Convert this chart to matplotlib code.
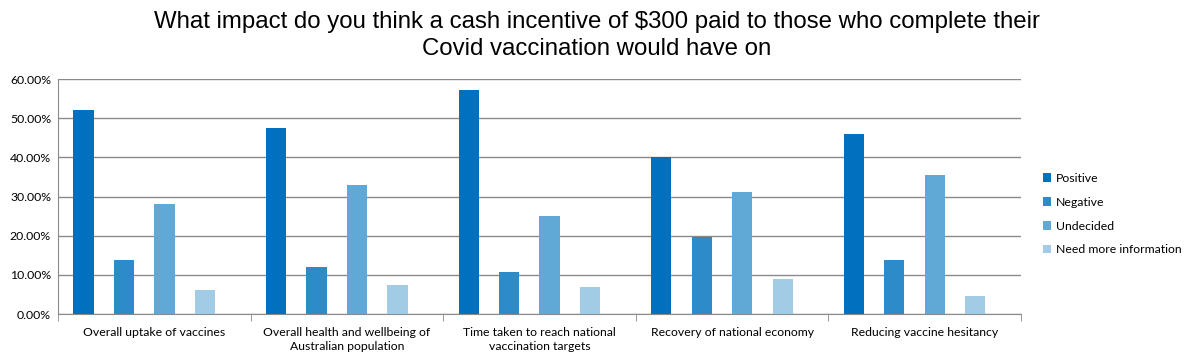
import matplotlib.pyplot as plt
from matplotlib.ticker import PercentFormatter
import numpy as np

categories = [
    "Overall uptake of vaccines",
    "Overall health and wellbeing of\nAustralian population",
    "Time taken to reach national\nvaccination targets",
    "Recovery of national economy",
    "Reducing vaccine hesitancy",
]
series = ["Positive", "Negative", "Undecided", "Need more information"]
positive = [52.1, 47.5, 57.2, 40.0, 46.0]
negative = [13.9, 12.1, 10.8, 19.7, 13.9]
undecided = [28.1, 33.0, 25.1, 31.2, 35.5]
need_info = [6.2, 7.5, 7.0, 9.0, 4.7]
colors = ["#0070BF", "#2E8BC9", "#60A8D6", "#A2CBE6"]

plt.rcParams['font.family'] = ['Liberation Sans', 'DejaVu Sans']

fig = plt.figure(figsize=(11.93, 3.61), dpi=100)
ax = fig.add_axes([0.0486, 0.130, 0.8072, 0.651])

x = np.arange(len(categories))
slot = 0.21
for i, (name, vals) in enumerate(zip(series, [positive, negative, undecided, need_info])):
    ax.bar(x - 0.5 + (1 - 4 * slot) / 2 + i * slot, vals, width=slot / 2, align='edge',
           color=colors[i], label=name, zorder=3)

ax.set_xlim(-0.5, len(categories) - 0.5)
ax.set_ylim(0, 60)
ax.set_yticks(np.arange(0, 61, 10))
ax.yaxis.set_major_formatter(PercentFormatter(decimals=2))
ax.yaxis.grid(True, color="#8a8a8a", linewidth=1, zorder=0)
ax.tick_params(axis='y', length=0, labelsize=8.8, pad=5)

ax.set_xticks(x)
ax.set_xticklabels(categories, fontsize=8.8, family=['Lato', 'DejaVu Sans'], linespacing=1.35)
ax.set_xticks(np.arange(len(categories) + 1) - 0.5, minor=True)
ax.tick_params(axis='x', which='major', length=0, pad=9)
ax.tick_params(axis='x', which='minor', length=5, color="#8a8a8a", direction='out')
for lab in ax.get_yticklabels():
    lab.set_family(['Lato', 'DejaVu Sans'])

for s in ['top', 'right']:
    ax.spines[s].set_visible(False)
for s in ['left', 'bottom']:
    ax.spines[s].set_color("#8a8a8a")

fig.suptitle("What impact do you think a cash incentive of $300 paid to those who complete their\nCovid vaccination would have on",
             fontsize=17.3, y=0.97, linespacing=1.3)

leg = ax.legend(loc='center left', bbox_to_anchor=(1.011, 0.425), frameon=False,
                prop={'family': ['Lato', 'DejaVu Sans'], 'size': 8.8},
                handlelength=0.7, handleheight=0.7, handletextpad=0.4, labelspacing=1.05)

fig.savefig("out.png", dpi=100)
